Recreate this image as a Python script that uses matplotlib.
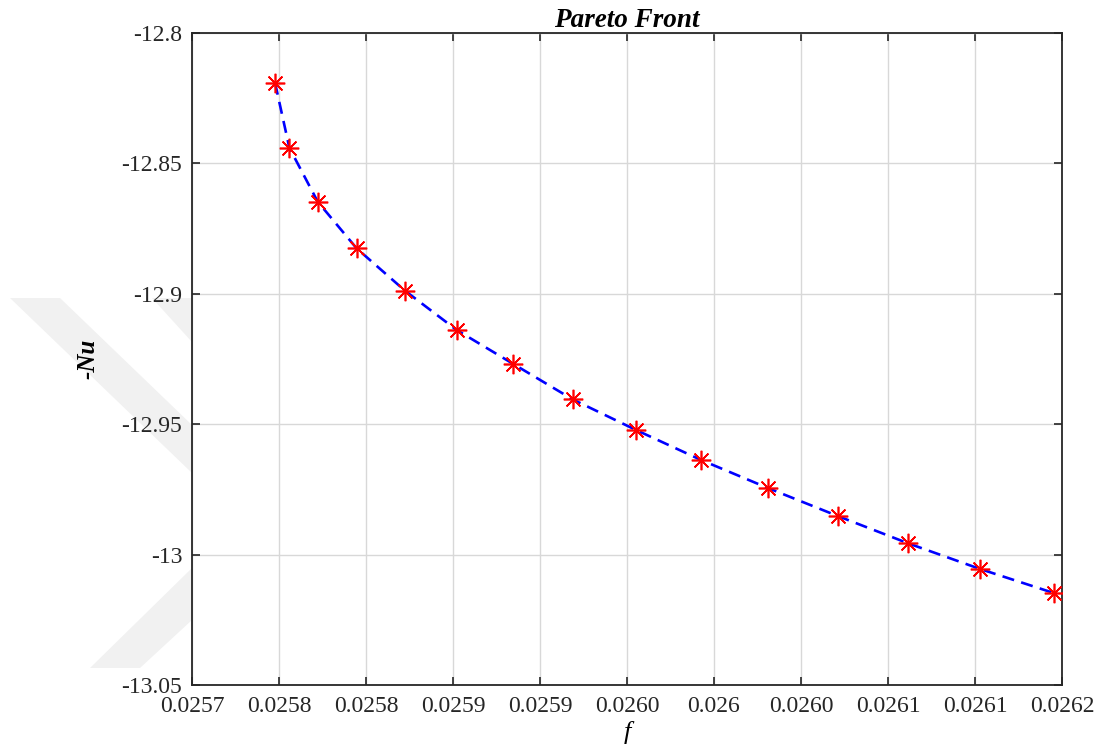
import matplotlib
matplotlib.use("Agg")
import matplotlib.pyplot as plt
from matplotlib.patches import Polygon

# ---- data ----
f_vals = [0.0257881, 0.0257950, 0.0258087, 0.0258275, 0.0258508,
          0.0258758, 0.0259031, 0.0259318, 0.0259623, 0.0259937,
          0.0260261, 0.0260597, 0.0260938, 0.0261284, 0.0261643]
neg_nu = [-12.8191, -12.8440, -12.8647, -12.8826, -12.8988,
          -12.9139, -12.9269, -12.9405, -12.9522, -12.9637,
          -12.9745, -12.9852, -12.9957, -13.0055, -13.0148]

x_tick_vals = [0.025748, 0.025790, 0.025832, 0.025874, 0.025916, 0.025958,
               0.026000, 0.026042, 0.026084, 0.026126, 0.026168]
x_tick_labels = ["0.0257", "0.0258", "0.0258", "0.0259", "0.0259", "0.0260",
                 "0.026", "0.0260", "0.0261", "0.0261", "0.0262"]
y_tick_vals = [-13.05, -13.0, -12.95, -12.9, -12.85, -12.8]
y_tick_labels = ["-13.05", "-13", "-12.95", "-12.9", "-12.85", "-12.8"]

plt.rcParams['font.family'] = ['Liberation Serif', 'DejaVu Serif']

W, H = 1110, 756
fig = plt.figure(figsize=(W / 100, H / 100), dpi=100)
ax = fig.add_axes([192 / W, 1 - 685 / H, 870 / W, 652 / H])

# faint watermark chevrons behind the axes (decoration)
wm = '#f1f1f1'
def px(pts):
    return [(x / W, 1 - y / H) for x, y in pts]
for poly in ([(10, 298), (60, 298), (192, 425), (192, 473)],
             [(152, 298), (192, 298), (192, 342)],
             [(90, 668), (140, 668), (192, 620), (192, 568)]):
    fig.add_artist(Polygon(px(poly), closed=True, transform=fig.transFigure,
                           facecolor=wm, edgecolor='none', zorder=0))

ax.set_facecolor('white')
ax.set_zorder(1)

ax.plot(f_vals, neg_nu, color='#0000ff', lw=1.9, linestyle=(0, (4.6, 2.8)), zorder=3)
ax.plot(f_vals, neg_nu, linestyle='none', marker=(8, 2, 0), ms=14, mew=1.2,
        color='#ff0000', zorder=4)

ax.set_xlim(x_tick_vals[0], x_tick_vals[-1])
ax.set_ylim(-13.05, -12.8)
ax.set_xticks(x_tick_vals)
ax.set_xticklabels(x_tick_labels)
ax.set_yticks(y_tick_vals)
ax.set_yticklabels(y_tick_labels)

ax.grid(True, color='#d8d8d8', lw=1.0)
ax.set_axisbelow(True)
ax.tick_params(direction='in', length=6, width=1.2, color='#262626',
               top=True, right=True, labelsize=17, labelcolor='#262626')
ax.tick_params(axis='x', pad=8)
ax.tick_params(axis='y', pad=7)
for s in ax.spines.values():
    s.set_color('#262626')
    s.set_linewidth(1.3)

ax.set_title('Pareto Front', fontsize=19.5, fontweight='bold', style='italic', pad=4)
ax.set_xlabel('f', fontsize=19, style='italic')
ax.xaxis.set_label_coords(0.5, -0.055)
ax.set_ylabel('-Nu', fontsize=18, fontweight='bold', style='italic')
ax.yaxis.set_label_coords(-0.106, 0.5)

fig.savefig('out.png', dpi=100, facecolor='white')
